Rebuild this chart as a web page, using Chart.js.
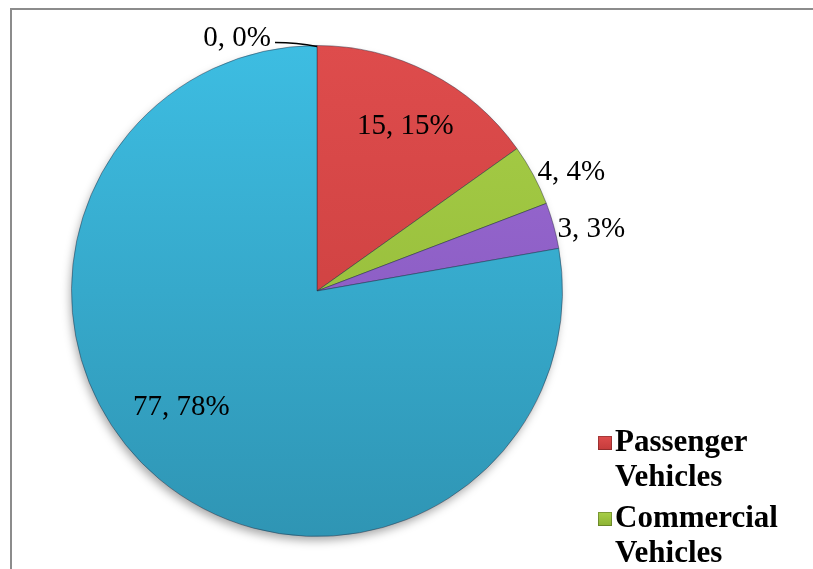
<!DOCTYPE html>
<html>
<head>
<meta charset="utf-8">
<script src="https://cdn.jsdelivr.net/npm/chart.js@4.4.0/dist/chart.umd.min.js"></script>
<style>
    html, body { margin: 0; padding: 0; background: #fff; }
    #wrap { width: 813px; height: 569px; position: relative; }
</style>
</head>
<body>
<div id="wrap"><canvas id="salesPie"></canvas></div>
<script>
// vehicle segments, in drawing order starting at 12 o'clock
const segments = ['Passenger Vehicles', 'Commercial Vehicles', 'Three Wheelers', 'Two Wheelers', 'Quadricycle'];
const shares = [15, 4, 3, 77, 0];
const topColors = ['#de4c4c', '#a8cf48', '#9c6cd4', '#3dbde2', '#2c5f9e'];
const bottomColors = ['#c43b3b', '#8cb233', '#7f52b8', '#2f95b4', '#204a7c'];
// label tweaks: radius as a fraction of the pie, extra turn in degrees
const labelRadius = [0.76, 1.0, 1.0, 0.727, 1.0];
const labelTurn = [1, 0, 0, 9.5, 0];

const serif = '"Liberation Serif", "Times New Roman", serif';

const sliceFill = (ctx) => {
    const area = ctx.chart.chartArea;
    if (!area) return topColors[ctx.dataIndex];
    const g = ctx.chart.ctx.createLinearGradient(0, area.top, 0, area.bottom);
    g.addColorStop(0, topColors[ctx.dataIndex]);
    g.addColorStop(1, bottomColors[ctx.dataIndex]);
    return g;
};

// thin grey frame on the top and left
const framePlugin = {
    id: 'frame',
    beforeDraw(chart) {
        const c = chart.ctx;
        c.save();
        c.strokeStyle = '#8c8c8c';
        c.lineWidth = 2;
        c.beginPath();
        c.moveTo(11, chart.height);
        c.lineTo(11, 9);
        c.lineTo(chart.width, 9);
        c.stroke();
        c.restore();
    }
};

// soft drop shadow under the whole pie
const shadowPlugin = {
    id: 'pieShadow',
    beforeDatasetsDraw(chart) {
        const arc = chart.getDatasetMeta(0).data[0];
        if (!arc) return;
        const c = chart.ctx;
        c.save();
        c.shadowColor = 'rgba(0,0,0,0.35)';
        c.shadowBlur = 10;
        c.shadowOffsetX = -2;
        c.shadowOffsetY = 5;
        c.fillStyle = '#3aa9cc';
        c.beginPath();
        c.arc(arc.x, arc.y, arc.outerRadius - 1, 0, Math.PI * 2);
        c.fill();
        c.restore();
    }
};

// "value, percent" labels
const valueLabels = {
    id: 'valueLabels',
    afterDatasetsDraw(chart) {
        const meta = chart.getDatasetMeta(0);
        const total = shares.reduce((a, b) => a + b, 0);
        const c = chart.ctx;
        c.save();
        c.font = '29px ' + serif;
        c.fillStyle = '#000';
        c.textBaseline = 'middle';
        meta.data.forEach((arc, i) => {
            const text = shares[i] + ', ' + Math.round(shares[i] / total * 100) + '%';
            const mid = (arc.startAngle + arc.endAngle) / 2 + labelTurn[i] * Math.PI / 180;
            const r = arc.outerRadius * labelRadius[i];
            const x = arc.x + Math.cos(mid) * r;
            const y = arc.y + Math.sin(mid) * r;
            if (shares[i] === 0) {
                // leader line out to the left
                c.strokeStyle = '#000';
                c.lineWidth = 1.5;
                c.beginPath();
                c.moveTo(x, y + 1);
                c.quadraticCurveTo(x - 20, y - 3, x - 42, y - 3);
                c.stroke();
                c.textAlign = 'right';
                c.fillText(text, x - 46, y - 7);
            } else if (labelRadius[i] >= 1) {
                c.textAlign = 'left';
                c.fillText(text, x + 4, y + (i === 1 ? -3 : 4));
            } else {
                c.textAlign = 'center';
                c.fillText(text, x, y);
            }
        });
        c.restore();
    }
};

// legend down the right side, wrapping each name onto two lines
const sideLegend = {
    id: 'sideLegend',
    afterDraw(chart) {
        const c = chart.ctx;
        c.save();
        c.font = 'bold 31px ' + serif;
        c.fillStyle = '#000';
        c.textBaseline = 'middle';
        c.textAlign = 'left';
        let y = 443;
        segments.forEach((name, i) => {
            const g = c.createLinearGradient(0, y - 7, 0, y + 7);
            g.addColorStop(0, topColors[i]);
            g.addColorStop(1, bottomColors[i]);
            c.fillStyle = g;
            c.fillRect(598, y - 7, 14, 14);
            c.strokeStyle = 'rgba(0,0,0,0.25)';
            c.lineWidth = 1;
            c.strokeRect(598.5, y - 6.5, 13, 13);
            c.fillStyle = '#000';
            const words = name.split(' ');
            words.forEach((word, k) => {
                c.fillText(word, 615, y + k * 35);
            });
            y += words.length * 35 + 6;
        });
        c.restore();
    }
};

new Chart(document.getElementById('salesPie'), {
    type: 'pie',
    data: {
        labels: segments,
        datasets: [{
            data: shares,
            backgroundColor: sliceFill,
            borderColor: 'rgba(40,40,60,0.45)',
            borderWidth: 1
        }]
    },
    options: {
        responsive: true,
        maintainAspectRatio: false,
        animation: false,
        layout: { padding: { left: 71, right: 250, top: 45, bottom: 32 } },
        plugins: {
            legend: { display: false },
            tooltip: { enabled: false }
        }
    },
    plugins: [framePlugin, shadowPlugin, valueLabels, sideLegend]
});
</script>
</body>
</html>
